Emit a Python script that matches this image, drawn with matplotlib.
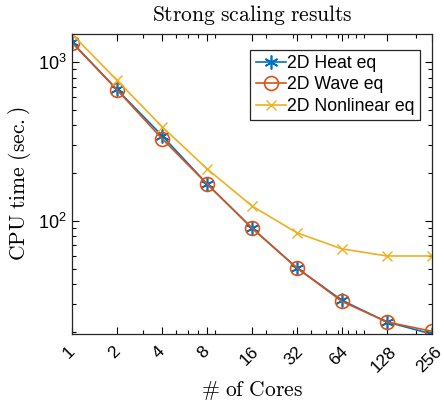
import matplotlib
matplotlib.use("Agg")
import matplotlib.pyplot as plt
import matplotlib.transforms as mtransforms
from matplotlib.ticker import LogLocator, FixedLocator, NullFormatter

plt.rcParams['font.family'] = ['Liberation Sans', 'DejaVu Sans']
plt.rcParams['mathtext.fontset'] = 'cm'

cores = [1, 2, 4, 8, 16, 32, 64, 128, 256]
heat = [1340, 674, 345, 171, 90, 50.4, 31.5, 23.0, 19.3]
wave = [1330, 670, 330, 171, 90, 50.4, 31.0, 23.0, 20.1]
nonlinear = [1505, 770, 393, 213, 124, 84, 66.5, 60, 60]

fig = plt.figure(figsize=(4.44, 4.03), dpi=100)
ax = fig.add_axes([0.162, 0.171, 0.811, 0.745])

ax.plot(cores, heat, color='#0072BD', marker=(6, 2, 0), markersize=10, lw=1.2,
        markeredgewidth=1.2, label='2D Heat eq')
ax.plot(cores, wave, color='#D95319', marker='o', markersize=10, lw=1.2,
        markerfacecolor='none', markeredgewidth=1.2, label='2D Wave eq')
ax.plot(cores, nonlinear, color='#EDB120', marker='x', markersize=7, lw=1.2,
        label='2D Nonlinear eq')

ax.set_xscale('log')
ax.set_yscale('log')
ax.set_xlim(1, 256)
ax.set_ylim(19.3, 1510)

ax.xaxis.set_major_locator(FixedLocator(cores))
ax.set_xticklabels([str(c) for c in cores], rotation=45, fontsize=12.5)
ax.xaxis.set_minor_locator(LogLocator(base=10, subs=range(2, 10), numticks=20))
ax.xaxis.set_minor_formatter(NullFormatter())
ax.yaxis.set_minor_locator(LogLocator(base=10, subs=range(2, 10), numticks=20))
ax.yaxis.set_minor_formatter(NullFormatter())
ax.tick_params(which='both', direction='in', top=True, right=True, width=0.8)
ax.tick_params(which='major', length=5, labelsize=13)
ax.tick_params(axis='x', which='major', pad=7, labelsize=12.5)
ax.tick_params(which='minor', length=3)
shift = mtransforms.ScaledTranslation(-3 / 100, 0, fig.dpi_scale_trans)
for lab in ax.get_xticklabels():
    lab.set_ha('center')
    lab.set_va('top')
    lab.set_transform(lab.get_transform() + shift)
for s in ax.spines.values():
    s.set_linewidth(0.9)
    s.set_color('#262626')

ax.set_title(r'$\mathrm{Strong\ scaling\ results}$', fontsize=15.5, pad=9)
ax.set_xlabel(r'$\#\ \mathrm{of\ Cores}$', fontsize=15.5, labelpad=3)
ax.set_ylabel(r'$\mathrm{CPU\ time\ (sec.)}$', fontsize=15.5, labelpad=4)

leg = ax.legend(loc='upper right', bbox_to_anchor=(0.967, 0.947), fontsize=12.7,
                fancybox=False, framealpha=1, edgecolor='#262626', borderpad=0.3,
                labelspacing=0.25, handlelength=1.7, handletextpad=0.1,
                borderaxespad=0)
leg.get_frame().set_linewidth(0.9)

fig.savefig('out.png', dpi=100)
